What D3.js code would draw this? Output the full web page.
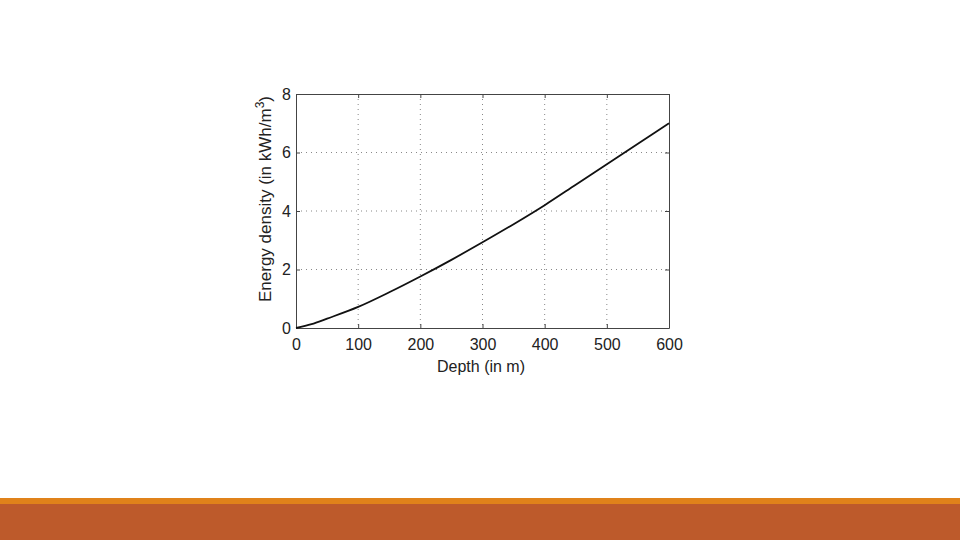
<!DOCTYPE html>
<html>
<head>
<meta charset="utf-8">
<script src="https://cdn.jsdelivr.net/npm/d3@7"></script>
<style>
  html, body { margin: 0; padding: 0; background: #fff; }
  svg { display: block; font-family: "Liberation Sans", Arial, sans-serif; }
</style>
</head>
<body>
<svg id="chart"></svg>
<script>
// depth (m) vs energy density (kWh/m^3)
const depth = [0, 25, 50, 100, 150, 200, 250, 300, 350, 400, 450, 500, 550, 600];
const energy = [0, 0.13, 0.32, 0.72, 1.22, 1.76, 2.33, 2.93, 3.55, 4.2, 4.9, 5.6, 6.3, 7.0];
const xTicks = [0, 100, 200, 300, 400, 500, 600];
const yTicks = [0, 2, 4, 6, 8];

const width = 960, height = 540;
const plot = { left: 296, right: 669, top: 94, bottom: 328 };

const svg = d3.select('#chart').attr('width', width).attr('height', height);

// footer bars
svg.append('rect').attr('x', 0).attr('y', 498).attr('width', width).attr('height', 6).attr('fill', '#e0821a');
svg.append('rect').attr('x', 0).attr('y', 504).attr('width', width).attr('height', 36).attr('fill', '#bd5a2b');

const x = d3.scaleLinear().domain([0, 600]).range([plot.left, plot.right]);
const y = d3.scaleLinear().domain([0, 8]).range([plot.bottom, plot.top]);

// dotted grid
svg.append('g')
  .selectAll('line')
  .data(xTicks.slice(1, -1))
  .enter().append('line')
  .attr('x1', d => x(d)).attr('x2', d => x(d))
  .attr('y1', plot.top).attr('y2', plot.bottom)
  .attr('stroke', '#888').attr('stroke-width', 1)
  .style('stroke-dasharray', '1,4');

svg.append('g')
  .selectAll('line')
  .data(yTicks.slice(1, -1))
  .enter().append('line')
  .attr('x1', plot.left).attr('x2', plot.right)
  .attr('y1', d => y(d)).attr('y2', d => y(d))
  .attr('stroke', '#888').attr('stroke-width', 1)
  .style('stroke-dasharray', '1,4');

// axes with inward ticks (matlab style)
const axisStyle = g => {
  g.select('.domain').attr('stroke', '#444');
  g.selectAll('.tick line').attr('stroke', '#444');
  g.selectAll('text').attr('fill', '#222').attr('font-size', 16).attr('font-family', '"Liberation Sans", Arial, sans-serif');
};

svg.append('g')
  .attr('transform', `translate(0,${plot.bottom})`)
  .call(d3.axisBottom(x).tickValues(xTicks).tickSize(-4).tickPadding(11).tickSizeOuter(0))
  .call(axisStyle);

svg.append('g')
  .attr('transform', `translate(${plot.left},0)`)
  .call(d3.axisLeft(y).tickValues(yTicks).tickSize(-4).tickPadding(5).tickSizeOuter(0))
  .call(axisStyle);

svg.append('g')
  .attr('transform', `translate(0,${plot.top})`)
  .call(d3.axisTop(x).tickValues(xTicks).tickSize(-4).tickFormat('').tickSizeOuter(0))
  .call(axisStyle);

svg.append('g')
  .attr('transform', `translate(${plot.right},0)`)
  .call(d3.axisRight(y).tickValues(yTicks).tickSize(-4).tickFormat('').tickSizeOuter(0))
  .call(axisStyle);

// curve
const line = d3.line()
  .x((d, i) => x(depth[i]))
  .y(d => y(d))
  .curve(d3.curveMonotoneX);

svg.append('path')
  .datum(energy)
  .attr('d', line)
  .attr('fill', 'none')
  .attr('stroke', '#111')
  .attr('stroke-width', 1.8);

// axis labels
svg.append('text')
  .attr('x', 481)
  .attr('y', 372)
  .attr('text-anchor', 'middle')
  .attr('font-size', 16)
  .attr('fill', '#222')
  .text('Depth (in m)');

const yl = svg.append('text')
  .attr('transform', `translate(271,${(plot.top + plot.bottom) / 2 - 12}) rotate(-90)`)
  .attr('text-anchor', 'middle')
  .attr('font-size', 17)
  .attr('fill', '#222');
yl.append('tspan').text('Energy density (in kWh/m');
yl.append('tspan').attr('dy', -7).attr('font-size', 12).text('3');
yl.append('tspan').attr('dy', 7).text(')');
</script>
</body>
</html>
